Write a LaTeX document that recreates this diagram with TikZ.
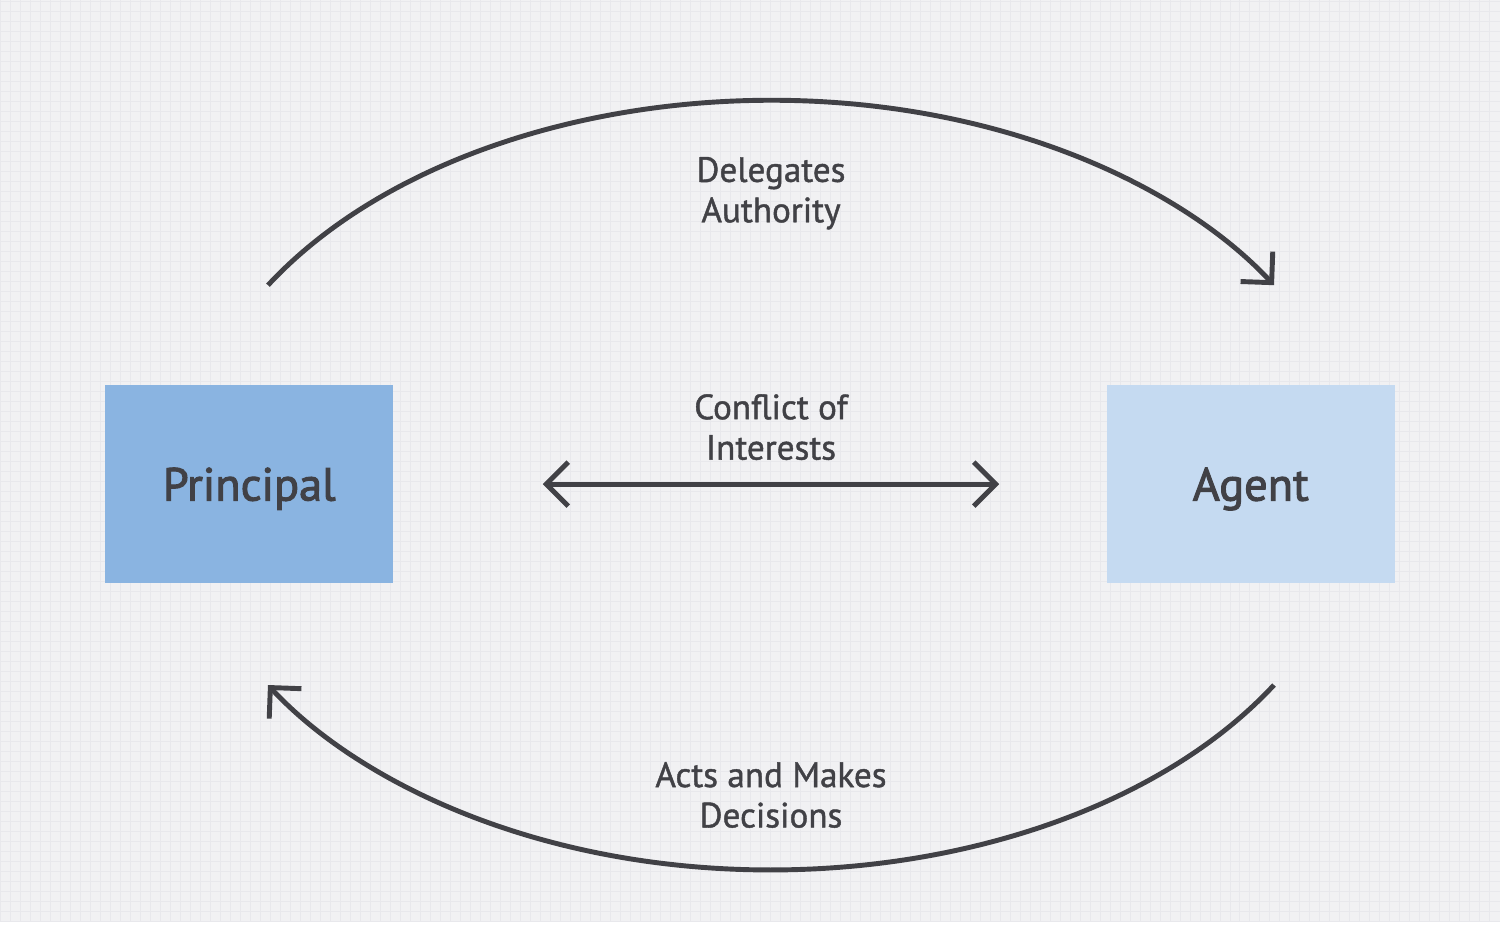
\documentclass[tikz,border=0pt]{standalone}
\usepackage{fontspec}
\setmainfont{PT Sans}
\newfontfamily\labelfont{PT Sans}[FakeBold=1.2]
\newfontfamily\boxfont{PT Sans}[FakeBold=2.2]
\usetikzlibrary{arrows.meta, positioning}
\definecolor{inkbg}{HTML}{F1F1F3}
\definecolor{inkgrid}{HTML}{E8E8EC}
\definecolor{inktext}{HTML}{414146}
\definecolor{inkdeep}{HTML}{8AB4E1}
\definecolor{inkpale}{HTML}{C5DAF1}
\newcommand{\partybox}[4]{%
  \node[fill=#3, minimum width=2.88cm, minimum height=1.98cm, text depth=0pt,
        text=inktext, font=\boxfont\fontsize{13.2}{15}\selectfont] (#1) at (#2,4.37) {#4};}

\begin{document}
\begin{tikzpicture}[font=\labelfont\fontsize{10}{11.5}\selectfont,
    >={Straight Barb[sharp, length=2.2mm, width=4.4mm]},
    flow/.style={draw=inktext, line width=1.4pt},
    tag/.style={align=center, text=inktext, inner sep=0pt}]
  \fill[inkbg] (0,0) rectangle (15,9.21);
  \draw[inkgrid, line width=0.2pt, step=0.1] (0,0) grid (15,9.21);
  \partybox{pr}{2.49}{inkdeep}{Principal}
  \partybox{ag}{12.51}{inkpale}{Agent}
  % arcs on one ellipse round the middle
  \coordinate (mid) at (7.71,4.36);
  \coordinate (ds) at ([shift={(148.7:5.89 and 3.85)}]mid);
  \coordinate (as) at ([shift={(-31.3:5.89 and 3.85)}]mid);
  \draw[flow, ->] (ds) arc[start angle=148.7, end angle=31.3, x radius=5.89, y radius=3.85];
  \draw[flow, ->] (as) arc[start angle=-31.3, end angle=-148.7, x radius=5.89, y radius=3.85];
  \coordinate[right=1.49cm of pr] (cl);
  \coordinate[left=1.07cm of ag] (cr);
  \draw[flow, <->] (cl) -- (cr);
  \node[tag] (dl) at (7.71,7.28) {Delegates\\Authority};
  \node[tag] (cf) at (7.71,4.94) {Conflict of\\Interests};
  \node[tag] (ad) at (7.71,1.26) {Acts and Makes\\Decisions};
\end{tikzpicture}
\end{document}
